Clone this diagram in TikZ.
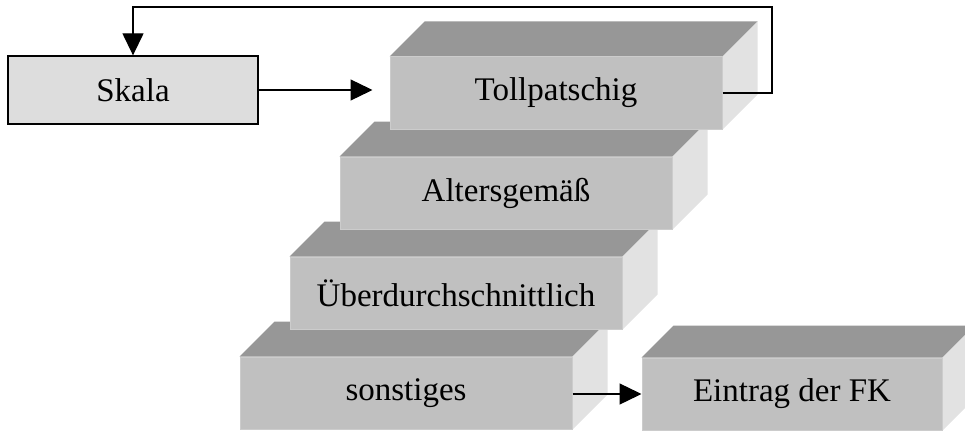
\documentclass[tikz,border=0pt]{standalone}
\usepackage{fontspec}
\setmainfont{Liberation Serif}
\usetikzlibrary{arrows.meta,backgrounds}
\definecolor{frontgray}{HTML}{C0C0C0}
\definecolor{topgray}{HTML}{979797}
\definecolor{sidegray}{HTML}{E2E2E2}
\definecolor{edgegray}{HTML}{CCCCCC}
\definecolor{scalegray}{HTML}{DDDDDD}
\tikzset{
  slab/.style={fill=frontgray, draw=edgegray, line width=1pt, inner sep=0pt,
    minimum width=332pt, minimum height=72pt, font=\fontsize{33}{36}\selectfont},
  scalebox/.style={fill=scalegray, draw=black, line width=1.3pt, inner sep=0pt,
    minimum width=250pt, minimum height=68pt, font=\fontsize{33}{36}\selectfont},
  topface/.style={fill=topgray},
  sideface/.style={fill=sidegray},
  flow/.style={line width=1.3pt, -{Triangle[length=22pt,width=21pt]}},
}
% top and right faces of a slab node, depth #2
\newcommand\slabfaces[2]{%
  \begin{scope}[on background layer]
    \fill[topface] (#1.north west) -- ++(#2,#2) -- ([shift={(#2,#2)}]#1.north east) -- (#1.north east) -- cycle;
    \fill[sideface] (#1.north east) -- ++(#2,#2) -- ([shift={(#2,#2)}]#1.south east) -- (#1.south east) -- cycle;
  \end{scope}}
\begin{document}
\begin{tikzpicture}[x=1pt,y=1pt]
  \useasboundingbox (0,0) rectangle (965,432);
  \clip (0,0) rectangle (965,432);
  % stacked slabs, lowest first
  \node[slab] (sonst) at (406,39) {sonstiges};
  \slabfaces{sonst}{35}
  \node[slab, minimum width=300pt] (fk) at (792,38) {Eintrag der FK};
  \slabfaces{fk}{32}
  \node[slab] (ueber) at (456,139) {Überdurchschnittlich};
  \slabfaces{ueber}{35}
  \node[slab] (alters) at (506,239) {Altersgemäß};
  \slabfaces{alters}{35}
  \node[slab] (toll) at (556,339) {Tollpatschig};
  \slabfaces{toll}{35}
  % scale box
  \node[scalebox] (skala) at (133,342) {Skala};
  % connectors
  \draw[flow, shorten >=17pt] (skala.east) -- (skala.east -| toll.west);
  \draw[flow] (sonst.east |- 0,38) -- (fk.west |- 0,38);
  \coordinate (loopR) at (772,425);
  \draw[flow] (toll.east) -- (loopR |- toll.east) -- (loopR) -- (skala.north |- loopR) -- (skala.north);
\end{tikzpicture}
\end{document}
